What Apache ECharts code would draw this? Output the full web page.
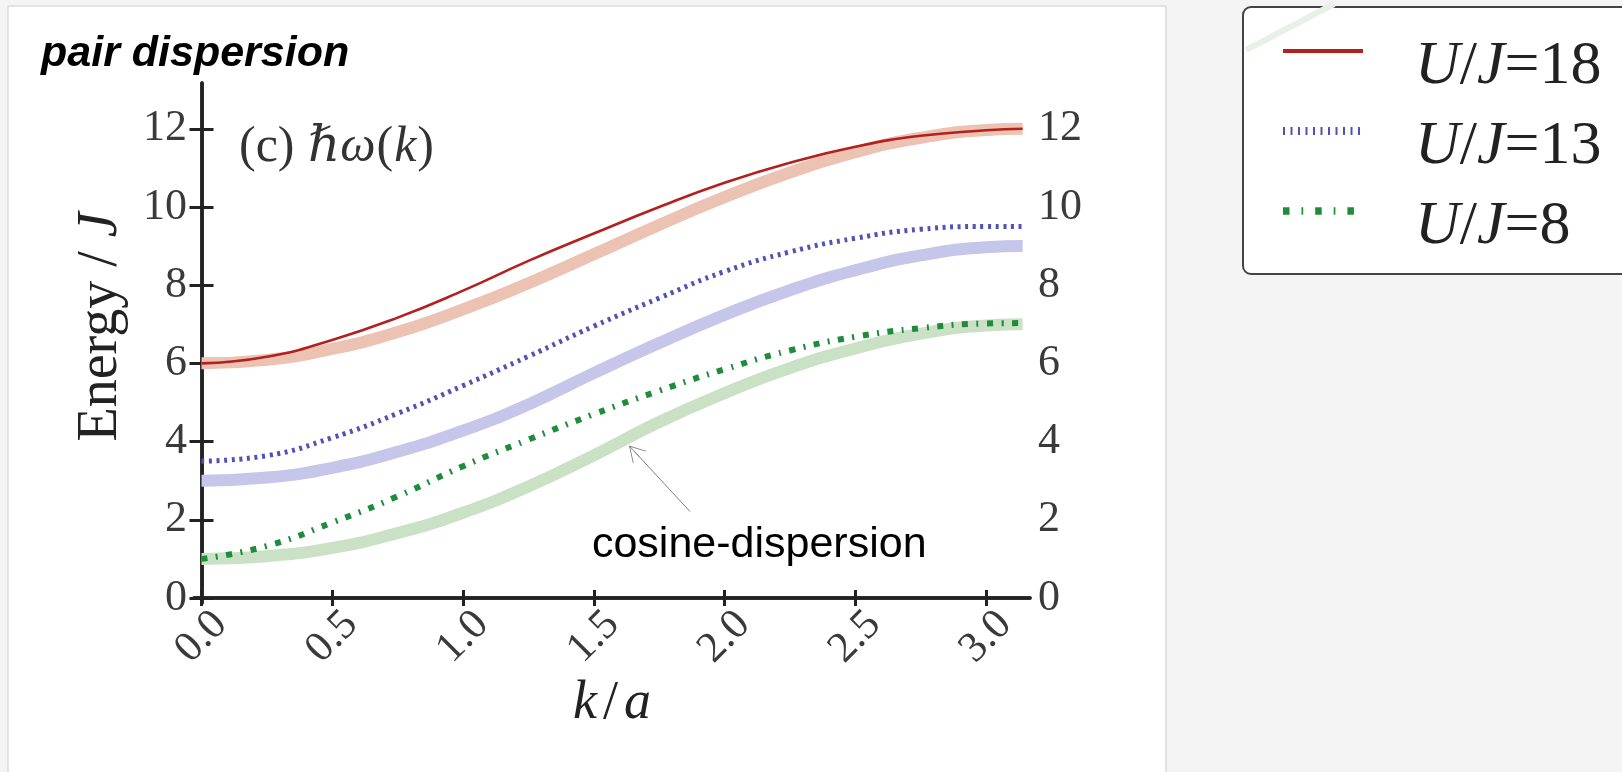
<!DOCTYPE html>
<html>
<head>
<meta charset="utf-8">
<script src="https://cdn.jsdelivr.net/npm/echarts@6/dist/echarts.min.js"></script>
<style>
html,body{margin:0;padding:0;background:#f4f4f4;}
#chart{width:1622px;height:772px;}
</style>
</head>
<body>
<div id="chart"></div>
<script>
// ---------------- data ----------------
const kValues = [0, 0.25, 0.5, 0.75, 1.0, 1.25, 1.5, 1.75, 2.0, 2.25, 2.5, 2.75, 3.0, 3.14];

// thin data curves
const pairUJ18 = [6.0, 6.17, 6.6, 7.17, 7.86, 8.62, 9.32, 10.0, 10.62, 11.13, 11.54, 11.82, 11.96, 12.0];
const pairUJ13 = [3.5, 3.64, 4.1, 4.72, 5.43, 6.18, 6.95, 7.67, 8.35, 8.85, 9.2, 9.43, 9.5, 9.5];
const pairUJ8  = [1.0, 1.33, 1.93, 2.6, 3.37, 4.05, 4.7, 5.3, 5.85, 6.33, 6.68, 6.9, 7.02, 7.03];

// broad cosine-dispersion bands
const cosUJ18 = [6.0, 6.09, 6.37, 6.8, 7.38, 8.05, 8.79, 9.54, 10.25, 10.88, 11.4, 11.77, 11.97, 12.0];
const cosUJ13 = [3.0, 3.08, 3.33, 3.74, 4.28, 4.95, 5.75, 6.52, 7.24, 7.87, 8.38, 8.76, 8.97, 9.0];
const cosUJ8  = [1.0, 1.07, 1.28, 1.66, 2.18, 2.85, 3.65, 4.5, 5.24, 5.88, 6.38, 6.76, 6.97, 7.0];

const seriesNames = ['U/J=18', 'U/J=13', 'U/J=8'];
const legendValues = ['18', '13', '8'];

const xTicks = [0, 0.5, 1.0, 1.5, 2.0, 2.5, 3.0];
const xTickLabels = ['0.0', '0.5', '1.0', '1.5', '2.0', '2.5', '3.0'];
const yTicks = [0, 2, 4, 6, 8, 10, 12];
const yTickLabels = ['0', '2', '4', '6', '8', '10', '12'];

const annotationText = 'cosine-dispersion';
const annotationTail = [1.868, 2.21];
const annotationHead = [1.655, 3.75];
const annotationTextAt = [1.493, 1.36];

// ---------------- helpers ----------------
function pairs(ys) { return kValues.map((k, i) => [k, ys[i]]); }
const serif = "'Liberation Serif', 'DejaVu Serif', serif";
const sans = "'Liberation Sans', Arial, sans-serif";
const axisColor = '#222';
const tickLabelColor = '#3a3a3a';

const colors = {
  red: '#b3201e', redBand: '#ecc2b2',
  blue: '#5252b4', blueBand: '#c6c6ea',
  green: '#1f8c3c', greenBand: '#cae1c6'
};
const dashBlue = [3, 4.6];
const dashGreen = [6, 8.5, 2, 8.5];
const smoothness = 0.5;

const chart = echarts.init(document.getElementById('chart'), null, {renderer: 'canvas'});

const xAxisCommon = {
  type: 'value', min: -0.0287, max: 3.168,
  axisLine: {show: true, lineStyle: {color: axisColor, width: 3.5}},
  axisTick: {show: true, inside: true, length: 8, lineStyle: {color: axisColor, width: 3}, customValues: xTicks},
  splitLine: {show: false}
};
const yAxisCommon = {
  type: 'value', min: -0.128, max: 13.17,
  axisLine: {show: true, lineStyle: {color: axisColor, width: 3.5}},
  axisTick: {show: true, inside: true, length: 12, lineStyle: {color: axisColor, width: 3}, customValues: yTicks},
  splitLine: {show: false}
};

function band(name, ys, color) {
  return {
    name: name, type: 'line', data: pairs(ys), smooth: smoothness,
    symbol: 'none', showSymbol: false, z: 1, silent: true,
    lineStyle: {color: color, width: 12, cap: 'butt'}
  };
}

const option = {
  animation: false,
  backgroundColor: '#f4f4f4',
  title: [
    {
      text: 'pair dispersion', left: 41, top: 29, padding: 0,
      textStyle: {fontFamily: sans, fontStyle: 'italic', fontWeight: 'bold', fontSize: 43, lineHeight: 50, color: '#000'}
    },
    {
      text: '{n|(c)}{s| }{i|ℏω}{n|(}{i|k}{n|)}', left: 239, top: 120, padding: 0,
      textStyle: {
        fontWeight: 'normal', lineHeight: 56,
        rich: {
          n: {fontFamily: serif, fontSize: 50, fontWeight: 'normal', color: '#333', lineHeight: 56},
          s: {fontFamily: serif, fontSize: 50, fontWeight: 'normal', color: '#333', lineHeight: 56},
          i: {fontFamily: serif, fontSize: 50, fontWeight: 'normal', fontStyle: 'italic', color: '#333', lineHeight: 56, padding: [0, 1, 0, 1]}
        }
      }
    }
  ],
  graphic: [
    {type: 'rect', z: -100, shape: {x: 8, y: 6, width: 1158, height: 800},
     style: {fill: '#ffffff', stroke: '#dcdcdc', lineWidth: 1.5}, silent: true},
    {type: 'text', x: 101, y: 327, rotation: Math.PI / 2, silent: true,
     style: {text: '{n|Energy / }{i|J}', align: 'center', verticalAlign: 'middle',
       rich: {n: {fontFamily: serif, fontSize: 56, fill: '#222'}, i: {fontFamily: serif, fontSize: 56, fontStyle: 'italic', fill: '#222'}}}},
    {type: 'text', x: 612, y: 704, silent: true,
     style: {text: '{i|k}{n|/}{i|a}', align: 'center', verticalAlign: 'middle',
       rich: {n: {fontFamily: serif, fontSize: 54, fill: '#222', padding: [0, 6, 0, 6]}, i: {fontFamily: serif, fontSize: 54, fontStyle: 'italic', fill: '#222'}}}},
    {type: 'line', z: 100, silent: true, shape: {x1: 1246, y1: 50, x2: 1334, y2: 4},
     style: {stroke: '#e8f1e6', lineWidth: 6}}
  ],
  legend: {
    orient: 'vertical', left: 1243, top: 7,
    padding: [4, 40, 16, 36],
    itemWidth: 80, itemHeight: 14, itemGap: -7,
    backgroundColor: '#ffffff', borderColor: '#444', borderWidth: 2, borderRadius: 8,
    selectedMode: false,
    data: [
      {name: seriesNames[0], lineStyle: {color: colors.red, width: 4, type: 'solid', opacity: 1}, itemStyle: {opacity: 0}},
      {name: seriesNames[1], lineStyle: {color: colors.blue, width: 8, type: [2, 5.5], opacity: 1}, itemStyle: {opacity: 0}},
      {name: seriesNames[2], lineStyle: {color: colors.green, width: 7.5, type: [6.5, 12, 1.7, 12], opacity: 1}, itemStyle: {opacity: 0}}
    ],
    formatter: function (name) {
      const i = seriesNames.indexOf(name);
      return '{i|U}{n|/}{i|J}{n|=' + legendValues[i] + '}';
    },
    textStyle: {
      fontFamily: serif, fontSize: 62, lineHeight: 48, color: '#222', padding: [32, 0, 0, 47],
      rich: {
        i: {fontFamily: serif, fontSize: 62, fontStyle: 'italic', color: '#222', lineHeight: 48},
        n: {fontFamily: serif, fontSize: 62, color: '#222', lineHeight: 48}
      }
    }
  },
  grid: {left: 194, right: 592, top: 83, bottom: 169, containLabel: false},
  xAxis: [
    Object.assign({}, xAxisCommon, {
      position: 'bottom',
      axisLabel: {
        show: true, customValues: xTicks, rotate: 45, align: 'center', verticalAlign: 'middle', margin: 34,
        fontFamily: serif, fontSize: 43, color: tickLabelColor,
        formatter: v => xTickLabels[xTicks.findIndex(t => Math.abs(t - v) < 1e-6)]
      }
    }),
    Object.assign({}, xAxisCommon, {position: 'top', axisLabel: {show: false}})
  ],
  yAxis: [
    Object.assign({}, yAxisCommon, {
      position: 'left',
      axisLabel: {
        show: true, customValues: yTicks, margin: 7, fontFamily: serif, fontSize: 44, color: tickLabelColor,
        padding: [0, 0, 14, 0],
        formatter: v => yTickLabels[yTicks.indexOf(Math.round(v))]
      }
    }),
    Object.assign({}, yAxisCommon, {
      position: 'right',
      axisLabel: {
        show: true, customValues: yTicks, margin: 8, fontFamily: serif, fontSize: 44, color: tickLabelColor,
        formatter: v => yTickLabels[yTicks.indexOf(Math.round(v))]
      }
    })
  ],
  series: [
    band('cos18', cosUJ18, colors.redBand),
    band('cos13', cosUJ13, colors.blueBand),
    Object.assign(band('cos8', cosUJ8, colors.greenBand), {
      markLine: {
        silent: true, animation: false,
        label: {show: false},
        lineStyle: {color: '#808080', width: 1, type: 'solid'},
        symbolSize: [18, 16],
        data: [[
          {coord: annotationTail, symbol: 'none'},
          {coord: annotationHead, symbol: 'path://M10,0 L20,16 L19.2,16.5 L10.4,2.4 L10.4,16 L9.6,16 L9.6,2.4 L0.8,16.5 L0,16 Z'}
        ]]
      },
      markPoint: {
        silent: true, animation: false,
        symbol: 'circle', symbolSize: 0, itemStyle: {color: 'transparent'},
        label: {show: true, position: 'right', distance: 0, formatter: annotationText,
          fontFamily: sans, fontSize: 43, color: '#000'},
        data: [{coord: annotationTextAt}]
      }
    }),
    {
      name: seriesNames[0], type: 'line', data: pairs(pairUJ18), smooth: smoothness,
      symbol: 'none', showSymbol: false, z: 3, color: colors.red,
      lineStyle: {color: colors.red, width: 2.6}
    },
    {
      name: seriesNames[1], type: 'line', data: pairs(pairUJ13), smooth: smoothness,
      symbol: 'none', showSymbol: false, z: 3, color: colors.blue,
      lineStyle: {color: colors.blue, width: 5, type: dashBlue}
    },
    {
      name: seriesNames[2], type: 'line', data: pairs(pairUJ8), smooth: smoothness,
      symbol: 'none', showSymbol: false, z: 3, color: colors.green,
      lineStyle: {color: colors.green, width: 6, type: dashGreen}
    }
  ]
};

chart.setOption(option);
</script>
</body>
</html>
